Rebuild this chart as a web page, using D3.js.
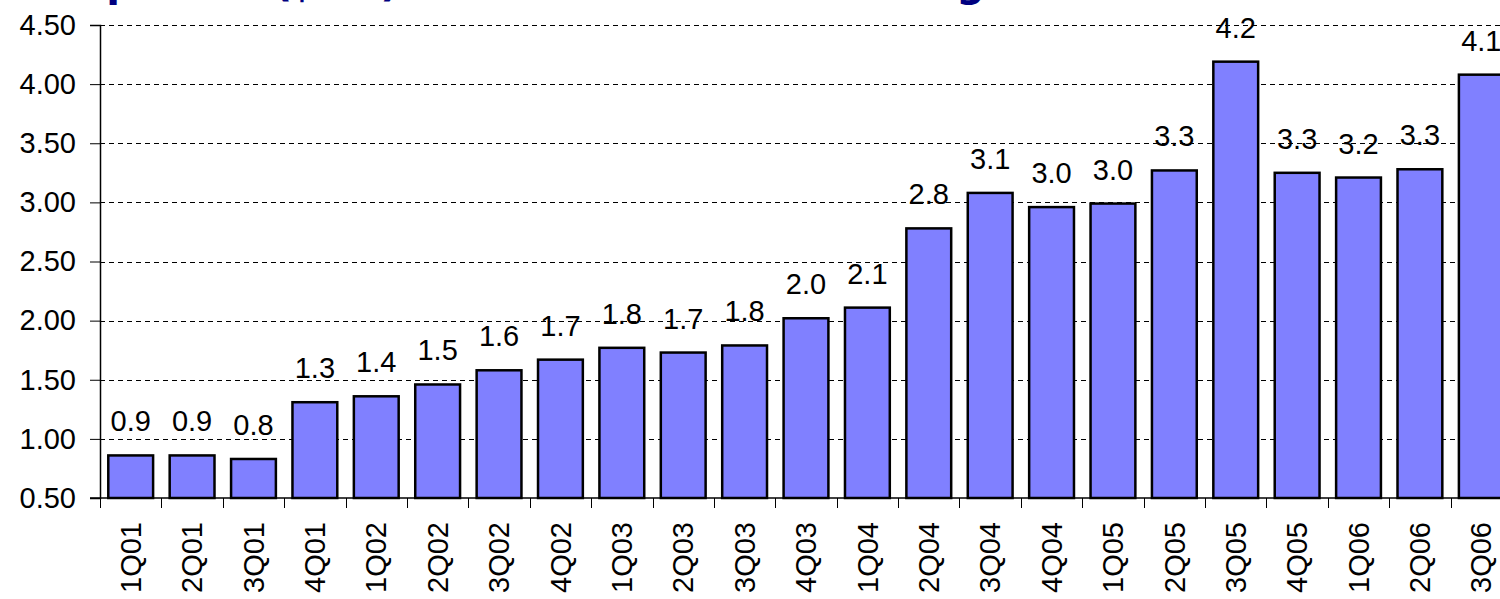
<!DOCTYPE html>
<html>
<head>
<meta charset="utf-8">
<script src="https://cdn.jsdelivr.net/npm/d3@7"></script>
<style>
	body { margin: 0; background: #fff; }
	svg { display: block; font-family: 'Liberation Sans', Arial, sans-serif; }
</style>
</head>
<body>
<svg id="chart" width="1500" height="599"></svg>
<script>
const categories = ['1Q01', '2Q01', '3Q01', '4Q01', '1Q02', '2Q02', '3Q02', '4Q02', '1Q03', '2Q03', '3Q03', '4Q03',
	'1Q04', '2Q04', '3Q04', '4Q04', '1Q05', '2Q05', '3Q05', '4Q05', '1Q06', '2Q06', '3Q06'];
const values = [0.86, 0.86, 0.83, 1.31, 1.36, 1.46, 1.58, 1.67, 1.77, 1.73, 1.79, 2.02,
	2.11, 2.78, 3.08, 2.96, 2.99, 3.27, 4.19, 3.25, 3.21, 3.28, 4.08];
const yTicks = [0.5, 1.0, 1.5, 2.0, 2.5, 3.0, 3.5, 4.0, 4.5];
const title = 'Upstream ($/bbl) \u2013 Track Record Remains Strong';

const svg = d3.select('#chart');
const plotLeft = 100;
const plotRight = 1512;
const plotTop = 25;
const plotBottom = 498;
const fontSize = '29px';

const x = d3.scaleBand().domain(categories).range([plotLeft, plotRight]).paddingInner(0.27).paddingOuter(0.135);
const y = d3.scaleLinear().domain([0.5, 4.5]).range([plotBottom, plotTop]);

// title, only its descenders show at the top edge
svg.append('text')
	.attr('x', 78)
	.attr('y', -4)
	.attr('textLength', 907)
	.attr('lengthAdjust', 'spacing')
	.style('font-family', "'DejaVu Sans', Verdana, sans-serif")
	.style('font-weight', 'bold')
	.style('font-size', '40px')
	.style('fill', '#000080')
	.text(title);

// dashed gridlines
svg.append('g')
	.selectAll('line')
	.data(yTicks.slice(1))
	.enter()
	.append('line')
	.attr('x1', plotLeft)
	.attr('x2', plotRight)
	.attr('y1', (d) => Math.round(y(d)) + 0.5)
	.attr('y2', (d) => Math.round(y(d)) + 0.5)
	.attr('stroke', '#000')
	.attr('stroke-dasharray', '5,4');

// bars
svg.append('g')
	.selectAll('rect')
	.data(values)
	.enter()
	.append('rect')
	.attr('x', (d, i) => x(categories[i]))
	.attr('y', (d) => y(d))
	.attr('width', x.bandwidth())
	.attr('height', (d) => plotBottom - y(d))
	.attr('fill', '#8080ff')
	.attr('stroke', '#000')
	.attr('stroke-width', 2.5);

// value labels
svg.append('g')
	.selectAll('text')
	.data(values)
	.enter()
	.append('text')
	.attr('x', (d, i) => x(categories[i]) + x.bandwidth() / 2)
	.attr('y', (d) => y(d) - 24)
	.attr('text-anchor', 'middle')
	.style('font-size', fontSize)
	.text((d) => d.toFixed(1));

// y axis
const yAxis = svg.append('g')
	.attr('transform', `translate(${plotLeft},0)`)
	.call(d3.axisLeft(y).tickValues(yTicks).tickFormat(d3.format('.2f')).tickSize(10).tickPadding(14));
yAxis.select('.domain').attr('stroke', '#000').attr('stroke-width', 1.5);
yAxis.selectAll('.tick line').attr('stroke', '#000');
yAxis.selectAll('.tick text').style('font-size', fontSize).style('font-family', "'Liberation Sans', Arial, sans-serif").attr('fill', '#000');

// x axis line and ticks at category boundaries
const gap = x.step() * x.paddingInner() / 2;
const bounds = categories.map((c) => x(c) - gap);
svg.append('line')
	.attr('x1', plotLeft - 10)
	.attr('x2', plotRight)
	.attr('y1', plotBottom)
	.attr('y2', plotBottom)
	.attr('stroke', '#000')
	.attr('stroke-width', 1.5);
svg.append('g')
	.selectAll('line')
	.data(bounds)
	.enter()
	.append('line')
	.attr('x1', (d) => Math.round(d) + 0.5)
	.attr('x2', (d) => Math.round(d) + 0.5)
	.attr('y1', plotBottom)
	.attr('y2', plotBottom + 10)
	.attr('stroke', '#000');

// rotated category labels
svg.append('g')
	.selectAll('text')
	.data(categories)
	.enter()
	.append('text')
	.attr('transform', (d) => `translate(${x(d) + x.bandwidth() / 2},522) rotate(-90)`)
	.attr('text-anchor', 'end')
	.attr('dy', '0.35em')
	.style('font-size', fontSize)
	.text((d) => d);
</script>
</body>
</html>
